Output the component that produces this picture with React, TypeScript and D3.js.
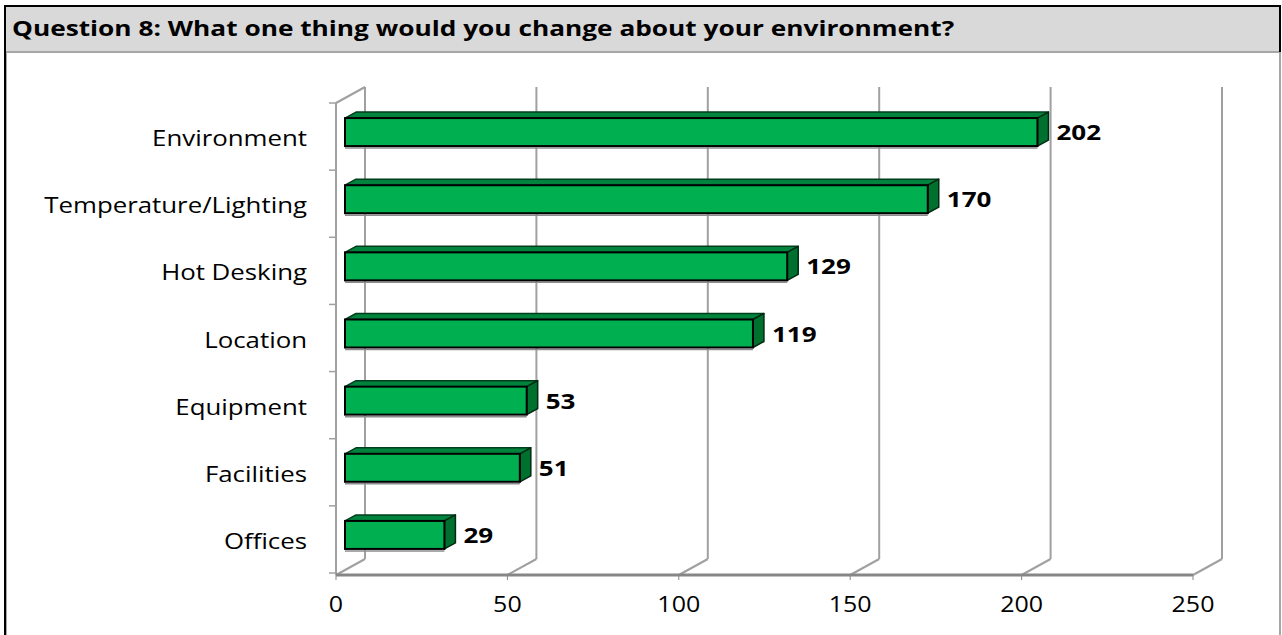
import React from "react";
import * as d3 from "d3";

const title = "Question 8: What one thing would you change about your environment?";
const categories = ["Environment", "Temperature/Lighting", "Hot Desking", "Location", "Equipment", "Facilities", "Offices"];
const values = [202, 170, 129, 119, 53, 51, 29];
const xTicks = [0, 50, 100, 150, 200, 250];

const W = 1282, H = 635;
const FONT = "'Open Sans', 'Liberation Sans', sans-serif";

function SText(props: { x: number; y: number; sx: number; anchor?: string; size: number; bold?: boolean; children: React.ReactNode }) {
  const { x, y, sx, anchor = "start", size, bold, children } = props;
  return (
    <g transform={`translate(${x},${y}) scale(${sx},1)`}>
      <text x={0} y={0} textAnchor={anchor as any} fontFamily={FONT} fontWeight={bold ? 700 : 400} fontSize={size} fill="#000">
        {children}
      </text>
    </g>
  );
}

export default function App() {
  const x = d3.scaleLinear().domain([0, 250]).range([336, 1193]);
  const y = d3.scaleBand<string>().domain(categories).range([103, 573]).padding(0);
  const axisY = 575;
  const D = { dx: 29, dy: -16 };
  const wallTop = 87;
  const off = { dx: 9, dy: -4.5 };
  const bd = { dx: 11, dy: -6 };
  const barH = 28;
  const gridColor = "#a0a0a0";

  return (
    <svg width={W} height={H} style={{ position: "absolute", left: 0, top: 0, background: "#fff" }}>
      <rect x={6} y={7} width={1274} height={45} fill="#d9d9d9" />
      <line x1={6} y1={52} x2={1280} y2={52} stroke="#a6a6a6" strokeWidth={2} />
      <line x1={5} y1={6} x2={1281} y2={6} stroke="#000" strokeWidth={2} />
      <line x1={5} y1={5} x2={5} y2={H} stroke="#000" strokeWidth={2} />
      <line x1={6.5} y1={53} x2={6.5} y2={H} stroke="#a6a6a6" strokeWidth={1} />
      <line x1={1280} y1={5} x2={1280} y2={52} stroke="#000" strokeWidth={2} />
      <line x1={1280} y1={52} x2={1280} y2={H} stroke="#a6a6a6" strokeWidth={2} />
      <SText x={12} y={36} sx={1.25} size={21} bold>{title}</SText>

      {xTicks.map((t) => (
        <g key={"g" + t}>
          <line x1={x(t) + D.dx} y1={wallTop} x2={x(t) + D.dx} y2={axisY + D.dy} stroke={gridColor} strokeWidth={2} />
          <line x1={x(t)} y1={axisY} x2={x(t) + D.dx} y2={axisY + D.dy} stroke={gridColor} strokeWidth={2} />
          <line x1={x(t)} y1={axisY} x2={x(t)} y2={axisY + 5} stroke="#868686" strokeWidth={1} />
          <SText x={x(t)} y={612} sx={1.19} anchor="middle" size={21}>{t}</SText>
        </g>
      ))}
      <line x1={x(0)} y1={103} x2={x(0)} y2={axisY} stroke={gridColor} strokeWidth={2} />
      <line x1={x(0)} y1={103} x2={x(0) + D.dx} y2={wallTop} stroke={gridColor} strokeWidth={2} />
      {categories.map((c) => (
        <line key={"t" + c} x1={x(0) - 7} y1={y(c)!} x2={x(0)} y2={y(c)!} stroke={gridColor} strokeWidth={1.5} />
      ))}
      <line x1={x(0) - 7} y1={573} x2={x(0)} y2={573} stroke={gridColor} strokeWidth={1.5} />
      <line x1={x(0)} y1={axisY} x2={x(250)} y2={axisY} stroke="#868686" strokeWidth={3} />

      {categories.map((c, i) => {
        const v = values[i];
        const mid = y(c)! + y.bandwidth() / 2;
        const cy = mid + off.dy;
        const x0 = x(0) + off.dx;
        const x1 = x(v) + off.dx;
        const y0 = cy - barH / 2;
        const y1 = cy + barH / 2;
        const top = `M${x0},${y0} L${x0 + bd.dx},${y0 + bd.dy} L${x1 + bd.dx},${y0 + bd.dy} L${x1},${y0} Z`;
        const side = `M${x1},${y0} L${x1 + bd.dx},${y0 + bd.dy} L${x1 + bd.dx},${y1 + bd.dy} L${x1},${y1} Z`;
        return (
          <g key={c}>
            <line x1={x0} y1={y1 + 2} x2={x1} y2={y1 + 2} stroke="#8c8c8c" strokeWidth={1.5} />
            <path d={top} fill="#00843d" stroke="#003d1c" strokeWidth={1.5} strokeLinejoin="round" />
            <path d={side} fill="#00702f" stroke="#002a12" strokeWidth={1.5} strokeLinejoin="round" />
            <rect x={x0} y={y0} width={x1 - x0} height={barH} fill="#00b050" stroke="#000" strokeWidth={2} />
            <SText x={x1 + bd.dx + 8} y={cy + 8} sx={1.24} size={21} bold>{v}</SText>
            <SText x={307} y={mid + 9.5} sx={1.23} anchor="end" size={21}>{c}</SText>
          </g>
        );
      })}
    </svg>
  );
}
